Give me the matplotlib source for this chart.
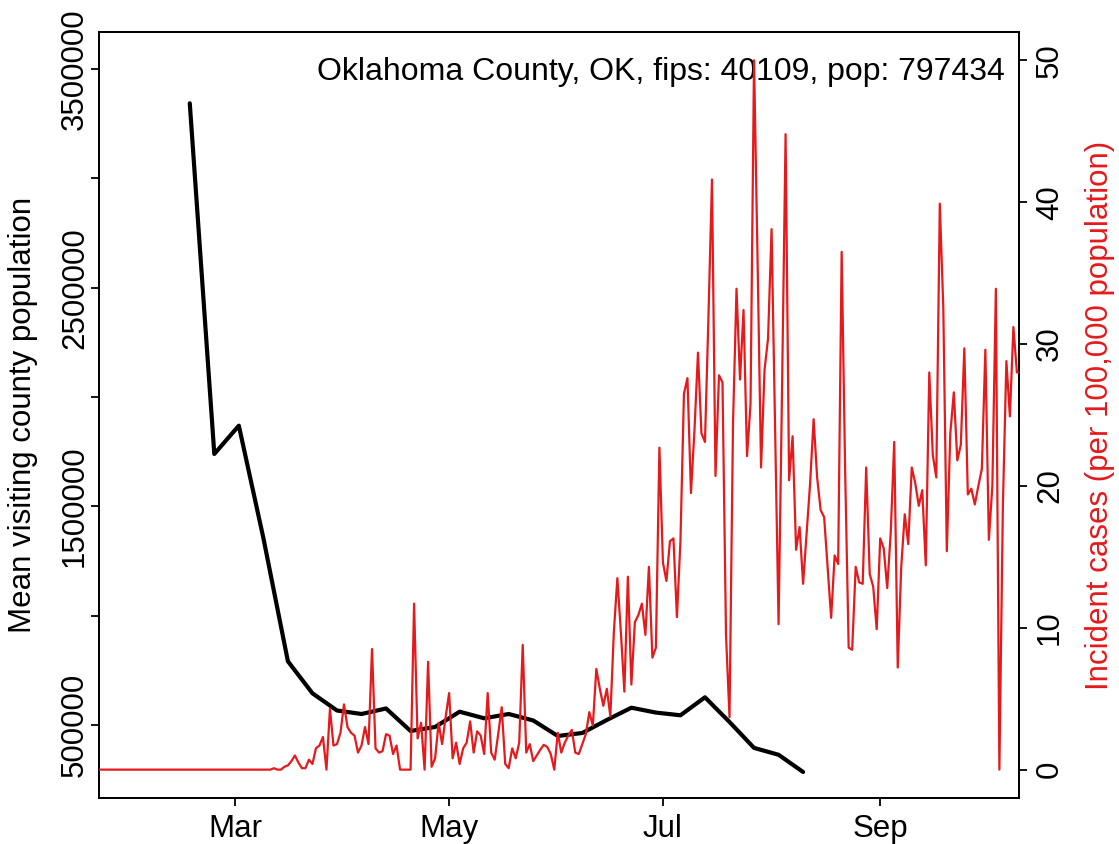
import matplotlib
matplotlib.use("Agg")
import matplotlib.pyplot as plt
import matplotlib.dates as mdates
import numpy as np
from datetime import date, timedelta

plt.rcParams['font.family'] = ['Liberation Sans', 'DejaVu Sans']

# ---------------- data ----------------
mobility_start = date(2020, 2, 17)          # weekly series
mobility_values = [3344000, 1739700, 1869200, 1355400, 791400, 645000, 566300,
                   550300, 575500, 472600, 490900, 560800, 530600, 550300,
                   520600, 449700, 463400, 522900, 579100, 556700, 544400,
                   626700, 513700, 395200, 363700, 285000]

cases_start = date(2020, 1, 21)             # daily series
cases_values = [
    # Jan 21 - Mar 11
    0, 0, 0, 0, 0, 0, 0, 0, 0, 0, 0, 0, 0, 0, 0, 0, 0, 0, 0, 0,
    0, 0, 0, 0, 0, 0, 0, 0, 0, 0, 0, 0, 0, 0, 0, 0, 0, 0, 0, 0,
    0, 0, 0, 0, 0, 0, 0, 0, 0, 0, 0,
    # Mar 12 -
    0.1, 0, 0, 0.2, 0.3, 0.6, 1.0, 0.5, 0.1, 0.1,
    0.7, 0.4, 1.5, 1.7, 2.3, 0, 4.3, 1.7, 1.8, 2.6,
    4.6, 3.0, 2.6, 2.4, 1.2, 1.7, 3.0, 1.8, 8.5, 1.5,
    1.2, 1.3, 2.5, 2.4, 1.1, 1.7, 0, 0, 0, 0,
    11.7, 2.2, 3.3, 0, 7.6, 0.2, 0.8, 3.3, 1.8, 3.7,
    5.4, 0.8, 1.9, 0.4, 1.5, 1.9, 3.4, 1.2, 2.7, 2.4,
    1.1, 5.4, 1.2, 0.7, 2.5, 4.4, 0.4, 0.1, 1.5, 0.8,
    1.9, 8.8, 1.2, 1.8, 0.6, 1.0, 1.4, 1.75, 1.6, 1.1,
    0, 2.6, 1.2, 1.9, 2.4, 2.8, 1.2, 1.1, 1.8, 2.5,
    4.05, 3.1, 7.1, 5.7, 4.5, 5.7, 3.75, 9.7, 13.5, 9.7,
    5.5, 13.6, 6.0, 10.4, 10.9, 11.7, 9.5, 14.3, 7.9, 8.6,
    22.7, 14.6, 13.3, 16.1, 16.3, 10.75, 16.1, 26.5, 27.6, 19.5,
    23.9, 29.4, 23.7, 23.1, 32.0, 41.6, 20.7, 27.8, 27.3, 9.5,
    3.7, 24.4, 33.9, 27.5, 32.4, 22.1, 25.8, 50.0, 36.0, 21.3,
    28.2, 30.4, 38.1, 24.0, 10.25, 27.0, 44.8, 20.4, 23.5, 15.5,
    17.1, 13.1, 16.6, 20.2, 24.7, 20.6, 18.3, 17.8, 14.3, 10.7,
    15.1, 14.5, 36.5, 21.0, 8.6, 8.45, 14.3, 13.2, 13.1, 21.3,
    13.8, 12.9, 9.9, 16.3, 15.6, 12.8, 16.7, 23.1, 7.2, 14.3,
    18.0, 15.9, 21.3, 20.2, 18.6, 19.7, 14.4, 28.0, 22.2, 20.6,
    39.9, 32.6, 15.4, 23.7, 26.6, 21.8, 22.9, 29.7, 19.4, 19.8,
    18.7, 20.0, 21.2, 29.6, 16.2, 20.0, 33.9, 0, 18.6, 28.8,
    24.9, 31.2, 28.0, 28.0,
]

left_ticks = [500000, 1000000, 1500000, 2000000, 2500000, 3000000, 3500000]
left_labels = ['500000', '', '1500000', '', '2500000', '', '3500000']
right_ticks = [0, 10, 20, 30, 40, 50]
month_ticks = [date(2020, 3, 1), date(2020, 5, 1), date(2020, 7, 1), date(2020, 9, 1)]
month_labels = ['Mar', 'May', 'Jul', 'Sep']

title_text = 'Oklahoma County, OK, fips: 40109, pop: 797434'
left_label = 'Mean visiting county population'
right_label = 'Incident cases (per 100,000 population)'

# ---------------- figure ----------------
W, H = 1119, 844
fig = plt.figure(figsize=(W / 100, H / 100), dpi=100)
L, R, T, B = 99, 1019, 32, 798
ax = fig.add_axes([L / W, 1 - B / H, (R - L) / W, (B - T) / H])
ax2 = ax.twinx()

red = '#E41A1C'
fs = 22.5

mob_dates = [mobility_start + timedelta(days=7 * i) for i in range(len(mobility_values))]
case_dates = [cases_start + timedelta(days=i) for i in range(len(cases_values))]

ax.plot(mob_dates, mobility_values, color='black', lw=3.0, solid_joinstyle='round',
        solid_capstyle='round', zorder=3)
ax2.plot(case_dates, cases_values, color=red, lw=1.6, zorder=3)

x0 = mdates.date2num(date(2020, 3, 1))
ax.set_xlim(x0 - 38.9, x0 + 223.6)
ax.set_ylim(166000, 3670000)
ax2.set_ylim(-2, 52)

ax.set_xticks([mdates.date2num(d) for d in month_ticks])
ax.set_xticklabels(month_labels, fontsize=fs)
ax.set_yticks(left_ticks)
ax.set_yticklabels(left_labels, fontsize=fs, rotation=90, va='center')
ax2.set_yticks(right_ticks)
ax2.set_yticklabels([str(t) for t in right_ticks], fontsize=fs, rotation=90, va='center')

for a in (ax, ax2):
    a.tick_params(direction='out', length=5.5, width=1.3, colors='black', pad=6)
    for s in a.spines.values():
        s.set_linewidth(1.3)
        s.set_color('black')
ax.tick_params(axis='y', pad=1)

ax.set_ylabel(left_label, fontsize=fs)
ax.yaxis.set_label_coords((38 - L) / (R - L), 0.5)
ax2.set_ylabel(right_label, fontsize=fs, color=red, rotation=90)
ax2.yaxis.set_label_coords((1085 - L) / (R - L), 0.5)

ax.text((1005 - L) / (R - L), 1 - (72 - T) / (B - T), title_text, transform=ax.transAxes,
        ha='right', va='center', fontsize=23, zorder=2)

fig.savefig('out.png', dpi=100)
